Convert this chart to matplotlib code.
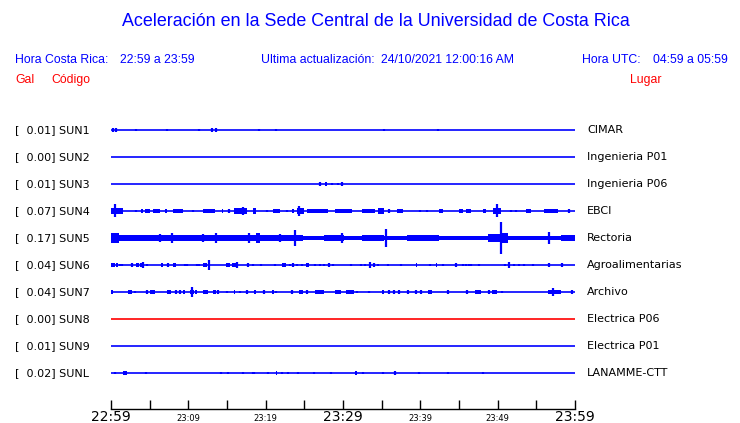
import matplotlib
matplotlib.use("Agg")
import matplotlib.pyplot as plt
from matplotlib.transforms import blended_transform_factory

# estaciones (de arriba hacia abajo)
codes = ["SUN1", "SUN2", "SUN3", "SUN4", "SUN5", "SUN6", "SUN7", "SUN8", "SUN9", "SUNL"]
peaks = [0.01, 0.00, 0.01, 0.07, 0.17, 0.04, 0.04, 0.00, 0.01, 0.02]
places = ["CIMAR", "Ingenieria P01", "Ingenieria P06", "EBCI", "Rectoria",
          "Agroalimentarias", "Archivo", "Electrica P06", "Electrica P01", "LANAMME-CTT"]
trace_colors = ["blue"] * 7 + ["red"] + ["blue"] * 2

# eje de tiempo (minutos desde 22:59)
tick_minutes = list(range(0, 61, 5))
tick_labels = ["22:59", "", "23:09", "", "23:19", "", "23:29", "", "23:39", "", "23:49", "", "23:59"]
big_labels = ["22:59", "23:29", "23:59"]

sun1 = [(0.3, 0.3, 1.5), (0.69, 0.69, 1.5), (3.24, 3.24, 1), (7.3, 7.3, 1), (11.44, 11.44, 1),
        (13.1, 13.1, 1.5), (13.6, 13.6, 1.5), (19.1, 19.1, 1), (21.4, 21.4, 1), (35.3, 35.3, 1),
        (42.3, 42.3, 1)]
sun2 = []
sun3 = [(27.0, 27.0, 1.5), (27.65, 27.95, 1.8), (28.6, 28.6, 1), (29.3, 29.3, 1), (29.9, 29.9, 1.5)]
sun4 = [(0.0, 1.5, 2.5), (0.52, 0.52, 5), (3.2, 3.2, 1), (3.9, 4.1, 1.3), (4.4, 5.05, 1.3),
        (5.4, 6.35, 1.3), (7.0, 7.3, 1.3), (8.0, 9.3, 1.5), (10.6, 10.6, 1), (11.9, 13.5, 1.5),
        (14.4, 14.5, 1.3), (15.2, 15.2, 1.3), (15.9, 17.6, 2), (17.07, 17.07, 3), (18.3, 18.7, 2),
        (20.2, 20.2, 1), (21.0, 21.9, 1.3), (22.8, 22.8, 1), (23.4, 23.6, 1.3), (24.0, 24.9, 2.5),
        (24.3, 24.3, 3.5), (25.4, 28.0, 1.5), (29.0, 31.2, 1.5), (32.5, 34.2, 1.3), (34.5, 35.3, 2),
        (35.9, 35.9, 1.3), (37.0, 37.7, 1.3), (40.0, 40.0, 1), (40.9, 40.9, 1), (42.4, 42.9, 1.3),
        (45.0, 45.5, 1.3), (45.9, 46.5, 1.3), (48.1, 48.5, 1.3), (49.4, 50.4, 2.5), (49.9, 49.9, 5),
        (51.7, 51.7, 1), (52.4, 52.4, 1), (53.6, 54.3, 1.3), (56.0, 57.8, 1.5), (59.2, 59.2, 1.3)]
sun5 = [(0.0, 1.0, 3.8), (1.0, 18.7, 2.0), (18.7, 19.3, 3.5), (19.3, 24.8, 2.0), (24.8, 27.5, 1.5),
        (27.5, 30.1, 2.3), (30.1, 32.5, 1.5), (32.5, 35.3, 2.3), (35.3, 38.3, 1.5), (38.3, 42.4, 2.3),
        (42.4, 48.7, 1.5), (48.7, 50.4, 2.8), (50.4, 51.3, 3.5), (51.3, 53.9, 1.5), (53.9, 56.5, 1.8),
        (56.5, 58.2, 1.5), (58.2, 60.0, 2.3),
        (6.4, 6.4, 3), (7.9, 7.9, 4), (11.9, 11.9, 3), (13.6, 13.6, 4), (17.8, 17.8, 3.5),
        (21.9, 21.9, 3), (23.8, 23.8, 6), (29.9, 29.9, 3.5), (35.5, 35.5, 7), (50.4, 50.4, 12.5),
        (56.6, 56.6, 4.5)]
sun6 = [(0.0, 0.5, 1.3), (0.6, 0.87, 1.3), (1.17, 1.17, 1), (1.46, 1.46, 1), (2.68, 2.68, 1.8),
        (3.24, 3.63, 1.3), (3.89, 3.89, 1.3), (4.19, 4.19, 2.5), (4.7, 4.7, 1), (6.44, 6.78, 1.6),
        (7.43, 7.43, 1.3), (8.07, 8.42, 1.3), (9.59, 9.59, 1), (9.81, 9.81, 1), (11.1, 11.1, 1),
        (11.37, 11.37, 1), (11.92, 12.4, 1.8), (12.61, 12.61, 3.5), (14.9, 15.33, 1.3),
        (15.64, 16.37, 1.6), (16.29, 16.29, 2.5), (17.72, 17.72, 1.3), (18.36, 18.36, 1),
        (19.4, 19.4, 0.8), (21.25, 21.25, 1), (22.12, 22.64, 1.3), (23.1, 23.1, 1), (23.55, 23.55, 1.3),
        (24.07, 24.07, 1), (24.71, 24.71, 1), (25.27, 25.57, 1.6), (26.44, 26.44, 1), (27.09, 27.09, 1),
        (27.6, 27.6, 1), (28.16, 28.16, 1.3), (28.68, 28.68, 1), (30.97, 30.97, 1), (32.36, 32.36, 1),
        (32.83, 32.83, 1), (33.47, 33.47, 2), (33.99, 33.99, 1.3), (34.51, 34.51, 1), (35.81, 35.81, 1),
        (37.45, 37.45, 1), (39.4, 39.6, 1.3), (41.25, 41.25, 1), (41.99, 42.2, 1.6), (42.93, 42.93, 1),
        (44.58, 44.58, 1.3), (45.58, 45.58, 1), (45.88, 45.88, 1), (46.23, 46.23, 1), (46.53, 46.53, 1),
        (47.65, 47.65, 1), (50.97, 50.97, 1), (51.41, 51.41, 2), (52.06, 52.06, 1), (52.78, 52.78, 1),
        (53.35, 53.35, 1), (54.6, 54.6, 0.8), (56.59, 56.59, 1.3), (58.28, 58.28, 1.3)]
sun7 = [(0.0, 0.3, 1.3), (2.24, 2.68, 1.8), (3.11, 3.11, 0.8), (4.63, 4.63, 1.3), (5.05, 5.7, 1.8),
        (7.22, 7.74, 1.6), (8.42, 8.42, 1.6), (8.94, 8.94, 1.3), (9.29, 9.59, 1.8), (10.24, 10.67, 1.8),
        (10.46, 10.46, 3.8), (10.8, 11.1, 1.6), (11.96, 12.48, 1.8), (13.18, 13.61, 1.6),
        (13.9, 13.9, 1.3), (14.99, 14.99, 0.8), (15.85, 16.07, 1.3), (16.72, 16.72, 0.8),
        (17.59, 17.59, 1.3), (18.44, 18.79, 1.8), (19.83, 19.83, 1.3), (20.83, 21.12, 1.3),
        (21.38, 21.38, 1), (23.42, 23.42, 1.8), (24.33, 24.84, 1.6), (25.36, 25.36, 1.3),
        (26.44, 27.6, 1.6), (29.03, 29.68, 1.6), (30.33, 31.4, 1.8), (31.75, 31.75, 1),
        (33.35, 33.35, 0.8), (35.08, 35.29, 1.3), (35.94, 35.94, 1.6), (36.58, 36.58, 1.3),
        (37.23, 37.23, 1.3), (38.4, 38.4, 1.3), (39.4, 39.4, 1.3), (40.14, 40.14, 1.3),
        (40.99, 41.47, 1.6), (43.58, 43.58, 1.3), (45.97, 45.97, 1.3), (47.04, 47.82, 1.8),
        (48.82, 48.82, 1.3), (49.25, 49.86, 1.6), (50.5, 50.5, 1), (56.46, 58.19, 1.8),
        (57.11, 57.11, 3), (59.57, 59.57, 1.6)]
sun8 = []
sun9 = []
sunl = [(0.52, 0.52, 0.8), (1.59, 2.05, 1.5), (4.47, 4.47, 1), (14.22, 14.22, 1), (15.14, 15.14, 1),
        (17.08, 17.08, 0.8), (18.3, 18.3, 1), (18.53, 18.53, 0.8), (20.35, 20.35, 1),
        (21.3, 21.45, 1.5), (22.16, 22.16, 0.8), (22.94, 22.94, 1), (24.13, 24.13, 1),
        (26.31, 26.31, 0.6), (28.51, 28.51, 0.6), (31.55, 31.75, 1.5), (32.53, 32.53, 0.8),
        (35.12, 35.12, 1), (36.75, 36.75, 1.5), (39.89, 39.89, 0.8), (43.52, 43.52, 0.6),
        (48.14, 48.14, 0.6)]
events = [sun1, sun2, sun3, sun4, sun5, sun6, sun7, sun8, sun9, sunl]

ROW_PX = 27.0   # separacion entre trazas en pixeles
GAIN = 1.3      # ganancia visual de las trazas

fig = plt.figure(figsize=(7.4, 4.23), dpi=100, facecolor="white")
ax = fig.add_axes([111 / 740, 1 - 409 / 423, (575 - 111) / 740, (409 - 115) / 423])
ax.set_xlim(0, 60)
ax.set_ylim(-(409 - 130) / ROW_PX, (130 - 115) / ROW_PX)

for i, (ev, col) in enumerate(zip(events, trace_colors)):
    base = -i
    ax.plot([0, 60], [base, base], color=col, lw=1.2, solid_capstyle="butt")
    for t0, t1, amp in ev:
        h = max(amp * GAIN, 1.0) / ROW_PX
        if t1 - t0 < 0.05:
            ax.vlines(t0, base - h, base + h, color=col, lw=1.6)
        else:
            ax.bar((t0 + t1) / 2, 2 * h, width=t1 - t0, bottom=base - h, color=col, linewidth=0)

# eje
for s in ["top", "left", "right"]:
    ax.spines[s].set_visible(False)
ax.spines["bottom"].set_linewidth(1.0)
ax.set_yticks([])
ax.set_xticks(tick_minutes)
ax.set_xticklabels([])
ax.tick_params(axis="x", direction="in", length=6.5, width=1.0, color="black")

tr = blended_transform_factory(ax.transData, fig.transFigure)
for m, lab in zip(tick_minutes, tick_labels):
    if not lab:
        continue
    size = 10 if lab in big_labels else 6
    fig.text(m, 1 - 421 / 423, lab, transform=tr, ha="center", va="baseline",
             fontsize=size, family="DejaVu Sans")

# etiquetas de estaciones
trL = blended_transform_factory(fig.transFigure, ax.transData)
for i, (c, p, pl) in enumerate(zip(codes, peaks, places)):
    ax.text(15 / 740, -i, "[%6.2f] %s" % (p, c), transform=trL, ha="left", va="center",
            fontsize=8, family="DejaVu Sans")
    ax.text(587 / 740, -i, pl, transform=trL, ha="left", va="center",
            fontsize=8, family="DejaVu Sans")

# encabezado
hf = "Liberation Sans"
fig.text(376 / 740, 1 - 22 / 423, "Aceleración en la Sede Central de la Universidad de Costa Rica",
         ha="center", va="center", fontsize=12.9, color="blue", family=hf)
y2 = 1 - 60 / 423
fig.text(15 / 740, y2, "Hora Costa Rica:", ha="left", va="center", fontsize=8.8, color="blue", family=hf)
fig.text(120 / 740, y2, "22:59 a 23:59", ha="left", va="center", fontsize=8.8, color="blue", family=hf)
fig.text(261 / 740, y2, "Ultima actualización:", ha="left", va="center", fontsize=8.8, color="blue", family=hf)
fig.text(381 / 740, y2, "24/10/2021 12:00:16 AM", ha="left", va="center", fontsize=8.8, color="blue", family=hf)
fig.text(582 / 740, y2, "Hora UTC:", ha="left", va="center", fontsize=8.8, color="blue", family=hf)
fig.text(653 / 740, y2, "04:59 a 05:59", ha="left", va="center", fontsize=8.8, color="blue", family=hf)
y3 = 1 - 80 / 423
fig.text(15 / 740, y3, "Gal", ha="left", va="center", fontsize=8.8, color="red", family=hf)
fig.text(51 / 740, y3, "Código", ha="left", va="center", fontsize=8.8, color="red", family=hf)
fig.text(630 / 740, y3, "Lugar", ha="left", va="center", fontsize=8.8, color="red", family=hf)

fig.savefig("out.png", dpi=100, facecolor="white")
